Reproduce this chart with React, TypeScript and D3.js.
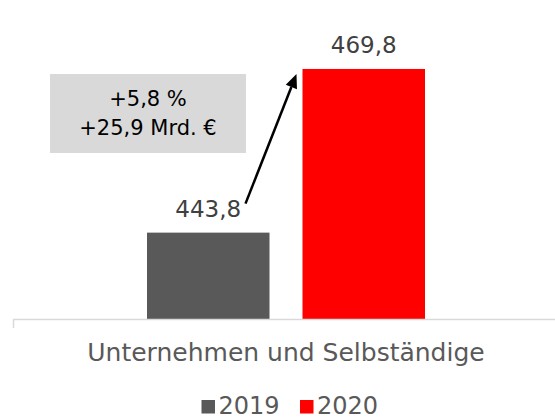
import React from "react";
import * as d3 from "d3";

const categories = ["Unternehmen und Selbständige"];
const seriesNames = ["2019", "2020"];
const seriesValues = [443.8, 469.8];
const seriesColors = ["#595959", "#ff0000"];
const boxLines = ["+5,8 %", "+25,9 Mrd. €"];
const fmt = (v: number) => v.toFixed(1).replace(".", ",");

export default function App() {
  const W = 555, H = 419;
  const font = "'DejaVu Sans', sans-serif";
  const x0 = d3.scaleBand().domain(categories).range([16, 556]).paddingInner(0).paddingOuter(0);
  const x1 = d3.scaleBand().domain(seriesNames).range([0, x0.bandwidth()]).paddingInner(0.2122).paddingOuter(0.8425);
  const y = d3.scaleLinear().domain([430, 470]).range([319.5, 67.7]);
  const cat = categories[0];
  const bx = (i: number) => (x0(cat) ?? 0) + (x1(seriesNames[i]) ?? 0);
  const bw = x1.bandwidth();

  // arrow from gray label to top of red bar
  const ax1 = bx(0) + bw - 24, ay1 = y(seriesValues[0]) - 29;
  const ax2 = bx(1) - 6, ay2 = y(seriesValues[1]) + 5;
  const ang = Math.atan2(ay2 - ay1, ax2 - ax1);
  const headL = 14, headW = 6;
  const bxh = ax2 - headL * Math.cos(ang), byh = ay2 - headL * Math.sin(ang);
  const px = -Math.sin(ang) * headW, py = Math.cos(ang) * headW;
  const head = `M${ax2},${ay2}L${bxh + px},${byh + py}L${bxh - px},${byh - py}Z`;

  return (
    <svg width={W} height={H} style={{ position: "absolute", left: 0, top: 0 }} fontFamily={font}>
      <rect x={0} y={0} width={W} height={H} fill="#fff" />
      {seriesValues.map((v, i) => (
        <g key={i}>
          <rect x={bx(i)} y={y(v)} width={bw} height={y(430) - y(v)} fill={seriesColors[i]} />
          <text x={bx(i) + bw / 2} y={y(v) - 16} textAnchor="middle" fontSize={23} fill="#404040">{fmt(v)}</text>
        </g>
      ))}
      <line x1={13} x2={555} y1={319.5} y2={319.5} stroke="#d9d9d9" strokeWidth={1.5} />
      <line x1={13.5} x2={13.5} y1={319.5} y2={328} stroke="#d9d9d9" strokeWidth={1.5} />
      <text x={(x0(cat) ?? 0) + x0.bandwidth() / 2} y={361} textAnchor="middle" fontSize={25} fill="#595959">{cat}</text>

      <rect x={50} y={74} width={196} height={79} fill="#d9d9d9" />
      {boxLines.map((t, i) => (
        <text key={i} x={148} y={106 + i * 29} textAnchor="middle" fontSize={21} fill="#000">{t}</text>
      ))}
      <line x1={ax1} y1={ay1} x2={bxh} y2={byh} stroke="#000" strokeWidth={2.5} />
      <path d={head} fill="#000" />

      {seriesNames.map((s, i) => (
        <g key={s} transform={`translate(${201.5 + i * 98.5},0)`}>
          <rect x={0} y={400} width={13.5} height={13.5} fill={seriesColors[i]} />
          <text x={17} y={413.5} fontSize={24} fill="#595959">{s}</text>
        </g>
      ))}
    </svg>
  );
}
